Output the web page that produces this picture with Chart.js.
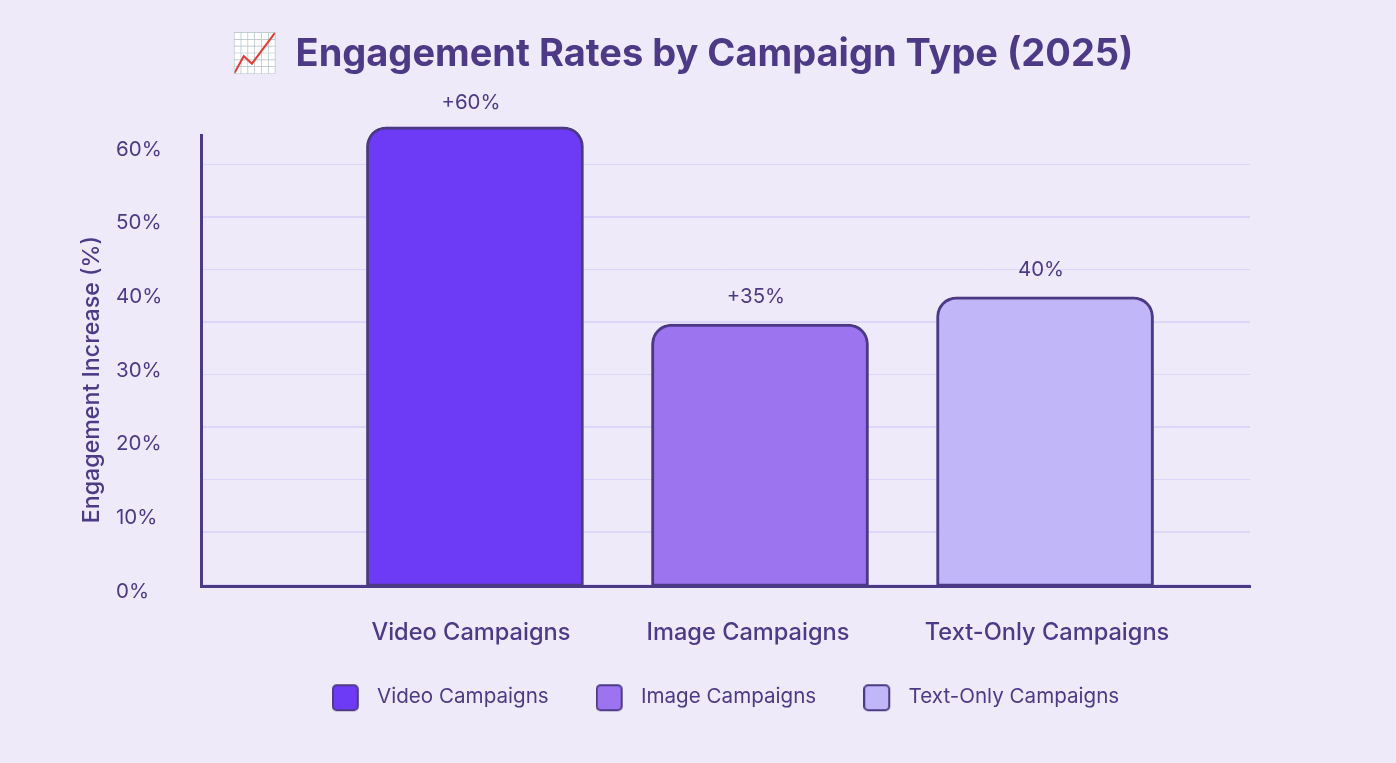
<!DOCTYPE html>
<html lang="en">
<head>
    <meta charset="UTF-8">
    <title>Engagement Rates by Campaign Type (2025)</title>
    <script src="https://cdn.jsdelivr.net/npm/chart.js"></script>
    <style>
        html, body { margin: 0; padding: 0; background: #efeaf9; }
        canvas { display: block; }
    </style>
</head>
<body>
    <canvas id="myChart" width="1396" height="763"></canvas>
    <script>
        // values
        const categories = ['Video Campaigns', 'Image Campaigns', 'Text-Only Campaigns'];
        const barHeights = [62.4, 35.6, 39.3];
        const barLabels = ['+60%', '+35%', '40%'];
        const barColors = ['#6d3bf5', '#9d74f0', '#c1b6f8'];
        const categoryTickAt = [-0.014, 0.958, 2.007];

        const INK = '#4c3a87';
        const FONT = 'Inter';
        const labelGap = [24, 27, 27];

        function legendSwatch(color) {
            const c = document.createElement('canvas');
            c.width = 35;
            c.height = 31;
            const g = c.getContext('2d');
            g.beginPath();
            g.roundRect(1, 4, 25, 25, 4);
            g.fillStyle = color;
            g.fill();
            g.lineWidth = 2;
            g.strokeStyle = INK;
            g.stroke();
            return c;
        }

        const barExtras = {
            id: 'barExtras',
            afterLayout(chart) {
                // the title is centred on x=682 in the picture
                chart.titleBlock.left += 57;
                chart.titleBlock.right += 57;
                // legend row reaches up beside the x labels
                chart.legend.top -= 9;
            },
            beforeDatasetDraw(chart) {
                const g = chart.ctx;
                g.save();
                g.shadowColor = 'rgba(76, 58, 135, 0.22)';
                g.shadowBlur = 8;
                g.shadowOffsetY = 2;
            },
            afterDatasetDraw(chart) {
                chart.ctx.restore();
            },
            afterDatasetsDraw(chart) {
                const g = chart.ctx;
                g.save();
                g.font = '20.4px ' + FONT;
                g.fillStyle = INK;
                g.textAlign = 'center';
                g.textBaseline = 'middle';
                chart.getDatasetMeta(0).data.forEach((bar, i) => {
                    g.fillText(barLabels[i], bar.x - 4, bar.y - labelGap[i]);
                });
                g.restore();
            }
        };

        new Chart(document.getElementById('myChart'), {
            type: 'bar',
            data: {
                datasets: [{
                    data: categories.map((name, i) => ({ x: i, y: barHeights[i] })),
                    backgroundColor: barColors,
                    borderColor: INK,
                    borderWidth: 3,
                    borderSkipped: false,
                    borderRadius: { topLeft: 20, topRight: 20, bottomLeft: 0, bottomRight: 0 },
                    barThickness: 217,
                    clip: false,
                    yAxisID: 'y'
                }]
            },
            options: {
                responsive: false,
                animation: false,
                layout: { padding: { left: 0, right: 146, top: 0, bottom: 37 } },
                plugins: {
                    tooltip: { enabled: false },
                    title: {
                        display: true,
                        text: '📈  Engagement Rates by Campaign Type (2025)',
                        color: INK,
                        font: { family: FONT, size: 38, weight: 'bold' },
                        padding: { top: 32, bottom: 58 }
                    },
                    legend: {
                        position: 'bottom',
                        fullSize: false,
                        onClick: null,
                        labels: {
                            usePointStyle: true,
                            pointStyleWidth: 35,
                            padding: 47,
                            color: INK,
                            font: { family: FONT, size: 20.6 },
                            generateLabels: () => categories.map((name, i) => ({
                                text: name,
                                pointStyle: legendSwatch(barColors[i]),
                                fontColor: INK,
                                lineWidth: 0,
                                index: i
                            }))
                        }
                    }
                },
                scales: {
                    x: {
                        type: 'linear',
                        offset: false,
                        min: -0.961,
                        max: 2.719,
                        afterBuildTicks: axis => { axis.ticks = categoryTickAt.map(value => ({ value })); },
                        afterFit: axis => { axis.height = 62; },
                        grid: { display: false, drawTicks: false },
                        border: { color: INK, width: 3 },
                        ticks: {
                            callback: (value, i) => categories[i],
                            autoSkip: false,
                            maxRotation: 0,
                            padding: 32,
                            color: INK,
                            font: { family: FONT, size: 23.6, weight: '500' }
                        }
                    },
                    y: {
                        min: 0,
                        max: 61.2,
                        weight: 1,
                        afterFit: axis => { axis.width = 85; },
                        grid: { display: false, drawTicks: false },
                        border: { color: INK, width: 3 },
                        ticks: {
                            stepSize: 10,
                            includeBounds: false,
                            crossAlign: 'far',
                            labelOffset: 5,
                            callback: value => value + '%',
                            color: INK,
                            font: { family: FONT, size: 20.5 }
                        }
                    },
                    // carries the gridlines (their spacing differs from the tick labels) and the axis title
                    yGrid: {
                        min: -0.03,
                        max: 8.55,
                        weight: 2,
                        position: 'left',
                        afterFit: axis => { axis.width = 116; },
                        border: { display: false },
                        grid: {
                            drawTicks: false,
                            color: '#ddd6fb',
                            lineWidth: ctx => (ctx.tick && ctx.tick.value % 2 === 1 ? 2 : 1)
                        },
                        ticks: { display: false, stepSize: 1, includeBounds: false },
                        title: {
                            display: true,
                            text: 'Engagement Increase (%)      ',
                            color: INK,
                            font: { family: FONT, size: 23.2, weight: '500' },
                            padding: { top: 78, bottom: 0 }
                        }
                    }
                }
            },
            plugins: [barExtras]
        });
    </script>
</body>
</html>
